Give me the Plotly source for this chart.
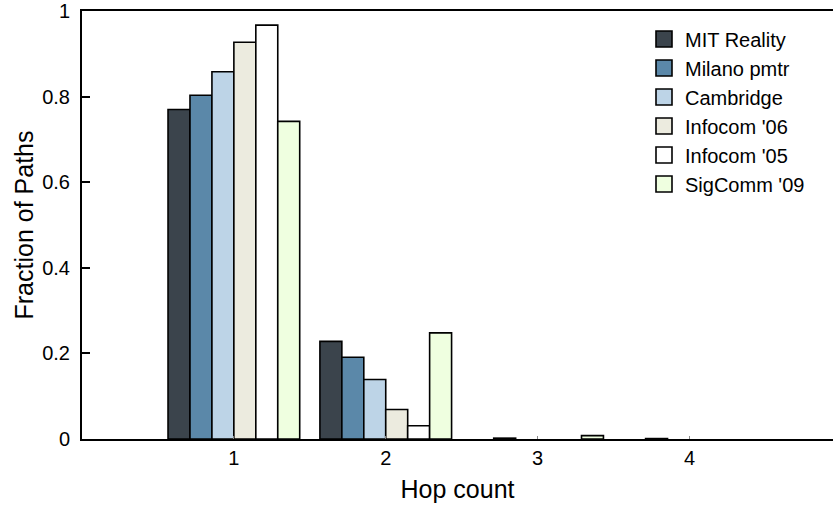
import plotly.graph_objects as go

hops = [1, 2, 3, 4]
series_names = ["MIT Reality", "Milano pmtr", "Cambridge", "Infocom '06", "Infocom '05", "SigComm '09"]
mit_reality = [0.770, 0.228, None, None]
milano_pmtr = [0.803, 0.191, 0.002, 0.001]
cambridge = [0.858, 0.139, None, None]
infocom06 = [0.927, 0.069, None, None]
infocom05 = [0.967, 0.031, None, None]
sigcomm09 = [0.742, 0.248, 0.008, None]
colors = ["#3b444c", "#5b88a9", "#bdd4e7", "#ecebdf", "#ffffff", "#efffe0"]

series_values = [mit_reality, milano_pmtr, cambridge, infocom06, infocom05, sigcomm09]

fig = go.Figure()
for name, vals, col in zip(series_names, series_values, colors):
    fig.add_trace(go.Bar(
        x=hops, y=vals, name=name, showlegend=False, legendgroup=name,
        marker=dict(color=col, line=dict(color="black", width=1.6)),
    ))
# legend swatches (larger square boxes, as in the reference)
for name, col in zip(series_names, colors):
    fig.add_trace(go.Scatter(
        x=[None], y=[None], mode="markers", name=name, legendgroup=name,
        marker=dict(symbol="square", size=16, color=col,
                    line=dict(color="black", width=1.6)),
    ))

font_family = "Liberation Sans, Arial, Helvetica, sans-serif"
fig.update_layout(
    width=833, height=506,
    margin=dict(l=82, r=0, t=8, b=67),
    paper_bgcolor="white", plot_bgcolor="white",
    barmode="group", bargap=0.133, bargroupgap=0,
    font=dict(family=font_family, color="black", size=16),
    showlegend=True,
    legend=dict(
        x=0.747, y=0.98, xanchor="left", yanchor="top",
        font=dict(size=20), bgcolor="rgba(0,0,0,0)",
        tracegroupgap=0, itemsizing="trace", itemwidth=32,
    ),
    xaxis=dict(
        range=[0, 4.945], tickvals=hops, ticktext=["1", "2", "3", "4"],
        showline=True, linecolor="black", linewidth=2, mirror=True,
        ticks="inside", ticklen=3, tickcolor="#888",
        showgrid=False, zeroline=False,
        title=dict(text="Hop count", font=dict(size=25), standoff=12),
        tickfont=dict(size=20),
    ),
    yaxis=dict(
        range=[0, 1], tickvals=[0, 0.2, 0.4, 0.6, 0.8, 1],
        ticktext=["0", "0.2", "0.4", "0.6", "0.8", "1"],
        showline=True, linecolor="black", linewidth=2,
        ticks="inside", ticklen=8, tickwidth=1.5, tickcolor="black",
        showgrid=False, zeroline=False, ticklabeloverflow="allow",
        ticklabelstandoff=6,
        title=dict(text="Fraction of Paths", font=dict(size=25), standoff=1),
        tickfont=dict(size=20),
    ),
)

fig.write_html("out.html")
